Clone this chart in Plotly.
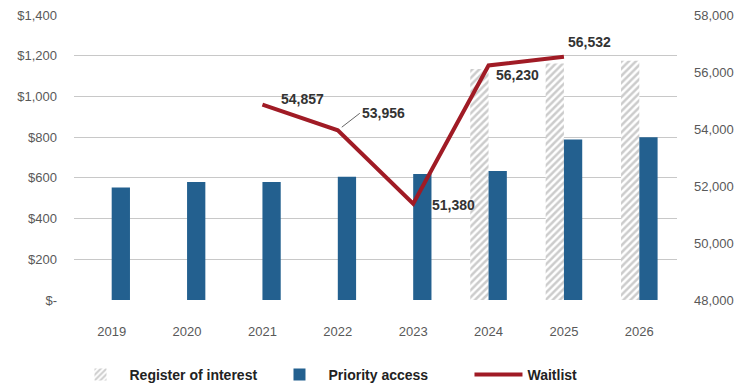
import plotly.graph_objects as go

years = ["2019", "2020", "2021", "2022", "2023", "2024", "2025", "2026"]
register_of_interest = [None, None, None, None, None, 1135, 1162, 1175]
priority_access = [553, 580, 580, 606, 619, 634, 789, 799]
waitlist = [None, None, 54857, 53956, 51380, 56230, 56532, None]

left_tickvals = [0, 200, 400, 600, 800, 1000, 1200, 1400]
left_ticktext = ["$-", "$200", "$400", "$600", "$800", "$1,000", "$1,200", "$1,400"]
right_tickvals = [48000, 50000, 52000, 54000, 56000, 58000]

# label offsets (pixels) for the waitlist data labels: (xshift, yshift, leader)
label_style = {
    "2021": (17, 6, False),
    "2022": (22, -17, True),
    "2023": (17, -1, False),
    "2024": (5, -10, False),
    "2025": (2, 15, False),
}

BLUE = "#23608F"
RED = "#A01B25"
GREY_TXT = "#595959"
FONT = "Liberation Sans, Arial, sans-serif"

fig = go.Figure()
fig.add_trace(go.Bar(
    x=years, y=register_of_interest, name="Register of interest",
    marker=dict(color="white", line=dict(width=0),
                pattern=dict(shape="/", fgcolor="#9A9A9A", bgcolor="white",
                             size=5, solidity=0.5)),
))
fig.add_trace(go.Bar(
    x=years, y=priority_access, name="Priority access",
    marker=dict(color=BLUE, line=dict(width=0)),
))
fig.add_trace(go.Scatter(
    x=years, y=waitlist, name="Waitlist", yaxis="y2", mode="lines",
    line=dict(color=RED, width=4), connectgaps=False,
))

for i, (yr, v) in enumerate(zip(years, waitlist)):
    if v is None:
        continue
    xs, ys, leader = label_style[yr]
    txt = f"{v:,}"
    common = dict(x=i, y=v, xref="x", yref="y2", text=txt,
                  xanchor="left", yanchor="middle",
                  font=dict(family=FONT, size=14, color="#333", weight="bold"))
    if leader:
        fig.add_annotation(**common, showarrow=True, ax=xs, ay=ys,
                           arrowhead=0, arrowwidth=1, arrowcolor="#666", standoff=5)
    else:
        fig.add_annotation(**common, showarrow=False, xshift=xs, yshift=ys)

fig.update_layout(
    width=745, height=385,
    margin=dict(l=74, r=68, t=15, b=85, autoexpand=False),
    paper_bgcolor="white", plot_bgcolor="white",
    barmode="group", bargap=0.515, bargroupgap=0,
    font=dict(family=FONT, size=13, color=GREY_TXT),
    showlegend=True,
    legend=dict(orientation="h", xref="container", yref="container",
                x=0.5, xanchor="center", y=0.026, yanchor="middle",
                font=dict(family=FONT, size=14, color="#222", weight="bold"),
                itemwidth=48, entrywidthmode="fraction", entrywidth=0.33,
                traceorder="normal"),
    xaxis=dict(type="category", categoryorder="array", categoryarray=years,
               range=[-0.5, len(years) - 0.5],
               showgrid=False, showline=False, zeroline=False,
               ticks="", ticklabelstandoff=22,
               tickfont=dict(size=13, color=GREY_TXT)),
    yaxis=dict(range=[0, 1400], tickvals=left_tickvals, ticktext=left_ticktext,
               showgrid=True, gridcolor="#C8C8C8", gridwidth=1, zeroline=False,
               showline=False, ticks="", ticklabelstandoff=16,
               tickfont=dict(size=13, color=GREY_TXT)),
    yaxis2=dict(range=[48000, 58000], tickvals=right_tickvals, tickformat=",",
                overlaying="y", side="right", showgrid=False, zeroline=False,
                showline=False, ticks="", ticklabelstandoff=16,
                tickfont=dict(size=13, color=GREY_TXT)),
)

fig.write_html("out.html")
